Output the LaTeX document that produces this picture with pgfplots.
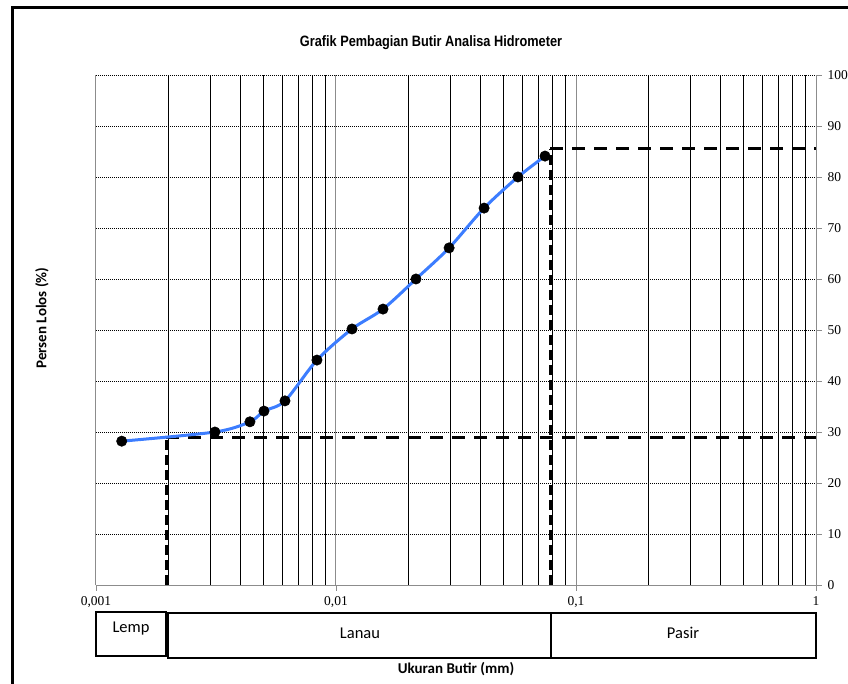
\documentclass[border=0pt]{standalone}
\usepackage{pgfplots}
\pgfplotsset{compat=1.18}
\usepackage{fontspec}
\setmainfont{Carlito}
\newfontfamily\titlefont[FakeStretch=0.85]{Liberation Sans}
\newfontfamily\tickfont{Liberation Serif}
\definecolor{blueline}{RGB}{60,125,255}
\definecolor{axgray}{RGB}{140,140,140}
\begin{document}
\begin{tikzpicture}
\useasboundingbox (0pt,0pt) rectangle (848pt,684pt);
\draw[line width=3pt] (12pt,0pt) -- (12pt,676pt) -- (849pt,676pt);
\begin{axis}[
  at={(96pt,99pt)}, anchor=south west,
  scale only axis, width=720pt, height=510pt,
  xmode=log, xmin=0.001, xmax=1, ymin=0, ymax=100,
  axis x line*=bottom, axis y line*=right,
  axis line style={axgray, line width=0.8pt, -},
  xtick={0.001,0.01,0.1,1},
  xticklabels={{0,001},{0,01},{0,1},{1}},
  minor xtick={0.002,0.003,0.004,0.005,0.006,0.007,0.008,0.009,
               0.02,0.03,0.04,0.05,0.06,0.07,0.08,0.09,
               0.2,0.3,0.4,0.5,0.6,0.7,0.8,0.9},
  ytick={0,10,...,100},
  xmajorgrids, xminorgrids, ymajorgrids,
  major x grid style={axgray, line width=1pt},
  minor x grid style={black, line width=0.9pt},
  major y grid style={black, line width=0.5pt, dash pattern=on 1pt off 1pt},
  tick align=outside, major tick length=6pt, minor tick length=0pt,
  tick style={axgray, line width=0.8pt},
  /pgf/number format/assume math mode=true,
  tick label style={font=\tickfont\fontsize{13.5}{13.5}\selectfont},
  xticklabel style={yshift=-2pt},
  yticklabel style={xshift=2pt},
  clip=false,
]
\addplot[black, line width=3pt, dash pattern=on 10pt off 5pt] coordinates {(0.00196,0) (0.00196,29)};
\addplot[black, line width=3pt, dash pattern=on 13pt off 9pt] coordinates {(0.00196,29) (1,29)};
\addplot[black, line width=3pt, dash pattern=on 10pt off 5pt] coordinates {(0.078,0) (0.078,85.5)};
\addplot[black, line width=3pt, dash pattern=on 13pt off 9pt] coordinates {(0.078,85.5) (1,85.5)};
\addplot[blueline, line width=3pt, smooth, mark=*, mark size=5.2pt,
  mark options={black, fill=black, solid, line width=0.5pt}] coordinates {
  (0.00128,28.2) (0.00313,30.0) (0.00438,32.0) (0.00501,34.1) (0.00613,36.1)
  (0.00833,44.1) (0.01166,50.2) (0.0157,54.1) (0.02154,60.0) (0.0296,66.1)
  (0.0414,73.9) (0.0573,80.0) (0.0743,84.1)};
\end{axis}
\draw[line width=1.2pt] (96pt,72pt) rectangle (166pt,28pt);
\draw[line width=1.2pt] (168pt,71pt) rectangle (551pt,26pt);
\draw[line width=1.2pt] (551pt,71pt) rectangle (816pt,26pt);
\node[font=\fontsize{16.5}{16.5}\selectfont] at (131pt,55pt) {Lemp};
\node[font=\fontsize{16.5}{16.5}\selectfont] at (360pt,51pt) {Lanau};
\node[font=\fontsize{16.5}{16.5}\selectfont] at (683pt,51pt) {Pasir};
\node[font=\bfseries\fontsize{15}{15}\selectfont] at (456pt,15pt) {Ukuran Butir (mm)};
\node[font=\bfseries\fontsize{15}{15}\selectfont, rotate=90] at (42pt,366pt) {Persen Lolos (\%)};
\node[font=\titlefont\bfseries\fontsize{15}{15}\selectfont] at (431pt,641pt) {Grafik Pembagian Butir Analisa Hidrometer};
\end{tikzpicture}
\end{document}
